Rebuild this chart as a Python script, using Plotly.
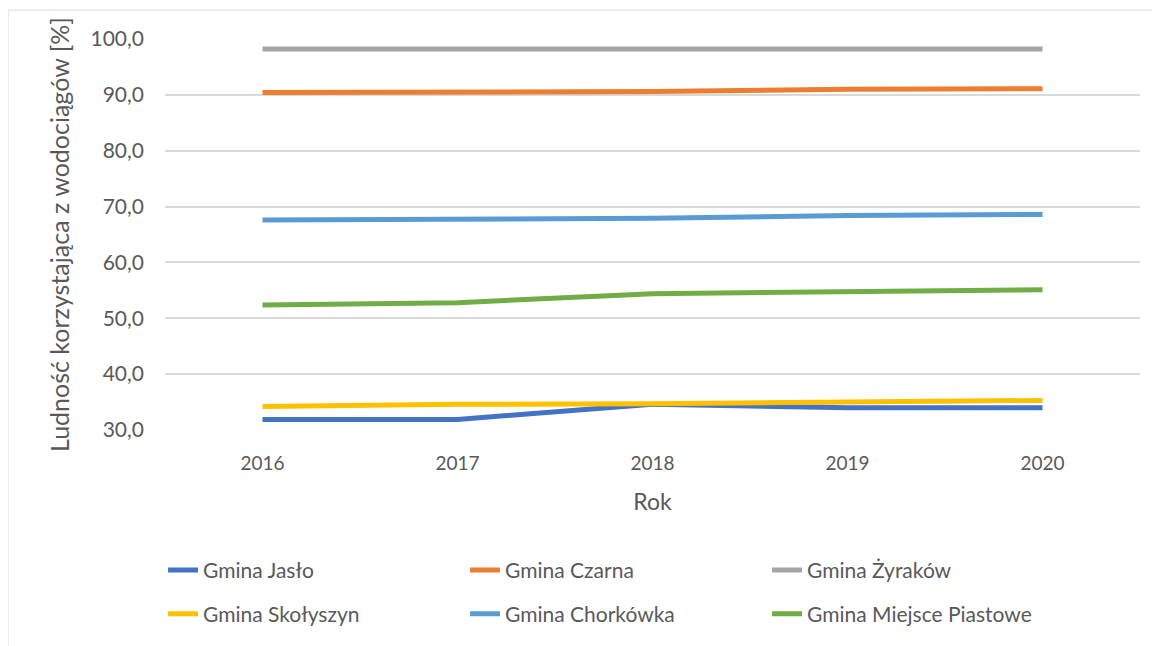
import plotly.graph_objects as go

years = ["2016", "2017", "2018", "2019", "2020"]
jaslo = [31.9, 31.9, 34.6, 34.0, 34.0]
czarna = [90.4, 90.4, 90.6, 91.0, 91.1]
zyrakow = [98.2, 98.2, 98.1, 98.2, 98.2]
skolyszyn = [34.2, 34.6, 34.7, 35.1, 35.3]
chorkowka = [67.6, 67.7, 67.9, 68.4, 68.6]
miejsce = [52.4, 52.8, 54.4, 54.7, 55.1]

series = [
    ("Gmina Jasło", jaslo, "#4472c4", "legend"),
    ("Gmina Czarna", czarna, "#ed7d31", "legend"),
    ("Gmina Żyraków", zyrakow, "#a5a5a5", "legend"),
    ("Gmina Skołyszyn", skolyszyn, "#ffc000", "legend2"),
    ("Gmina Chorkówka", chorkowka, "#5b9bd5", "legend2"),
    ("Gmina Miejsce Piastowe", miejsce, "#70ad47", "legend2"),
]

fig = go.Figure()
for name, vals, col, leg in series:
    fig.add_trace(
        go.Scatter(
            name=name,
            x=years,
            y=vals,
            mode="lines",
            line=dict(color=col, width=5),
            legend=leg,
        )
    )

legend_style = dict(
    orientation="h",
    x=-0.002,
    xanchor="left",
    yanchor="middle",
    entrywidth=257,
    entrywidthmode="pixels",
    font=dict(size=21, color="#595959"),
    bgcolor="rgba(0,0,0,0)",
)

fig.update_layout(
    width=1152,
    height=638,
    plot_bgcolor="white",
    paper_bgcolor="white",
    separators=", ",
    font=dict(family="Lato", size=19, color="#595959"),
    margin=dict(l=157, r=20, t=31, b=214),
    showlegend=True,
    legend=dict(legend_style, y=-0.359),
    legend2=dict(legend_style, y=-0.471),
)
fig.update_xaxes(
    title=dict(text="Rok", font=dict(size=23), standoff=20),
    range=[-0.5, 4.5],
    showgrid=False,
    showline=False,
    ticks="",
    tickfont=dict(size=19),
    ticklabelstandoff=20,
)
fig.update_yaxes(
    title=dict(text="Ludność korzystająca z wodociągów [%]", font=dict(size=25), standoff=13),
    range=[30, 100],
    dtick=10,
    tickformat=".1f",
    tickfont=dict(size=21),
    showgrid=True,
    gridcolor="#d9d9d9",
    gridwidth=1.5,
    zeroline=False,
    showline=False,
    ticks="",
    ticklabelstandoff=20,
)
# ramka wykresu
fig.add_shape(
    type="rect",
    xref="paper",
    yref="paper",
    x0=-0.161,
    x1=1.2,
    y0=-1.0,
    y1=1.0738,
    line=dict(color="#d9d9d9", width=1),
    fillcolor="rgba(0,0,0,0)",
    layer="below",
)

fig.write_html("out.html")
